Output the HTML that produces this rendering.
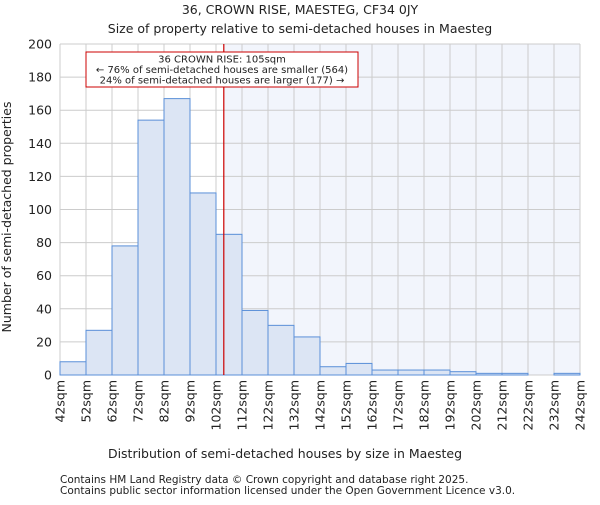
<!DOCTYPE html>
<html><head><meta charset="utf-8"><style>
body{margin:0;background:#fff;font-family:"Liberation Sans","DejaVu Sans",sans-serif;}
svg text{font-family:"DejaVu Sans","Liberation Sans",sans-serif;fill:#222;}
</style></head><body>
<svg id="c" width="600" height="500" xmlns="http://www.w3.org/2000/svg">
<text x="300" y="14" text-anchor="middle" font-size="12.5">36, CROWN RISE, MAESTEG, CF34 0JY</text>
<text x="300" y="33" text-anchor="middle" font-size="12.5">Size of property relative to semi-detached houses in Maesteg</text>
<g id="plot"></g>
<text x="285" y="458" text-anchor="middle" font-size="12.5">Distribution of semi-detached houses by size in Maesteg</text>
<text transform="translate(11,217) rotate(-90)" text-anchor="middle" font-size="12.5">Number of semi-detached properties</text>
<text x="60" y="483" font-size="10.5">Contains HM Land Registry data © Crown copyright and database right 2025.</text>
<text x="60" y="494" font-size="10.5">Contains public sector information licensed under the Open Government Licence v3.0.</text>
</svg>
<script>
const binStarts=[42,52,62,72,82,92,102,112,122,132,142,152,162,172,182,192,202,212,222,232];
const counts=[8,27,78,154,167,110,85,39,30,23,5,7,3,3,3,2,1,1,0,1];
const xTickLabels=["42sqm","52sqm","62sqm","72sqm","82sqm","92sqm","102sqm","112sqm","122sqm","132sqm","142sqm","152sqm","162sqm","172sqm","182sqm","192sqm","202sqm","212sqm","222sqm","232sqm","242sqm"];
const yTicks=[0,20,40,60,80,100,120,140,160,180,200];
const propertySize=105;
const NS="http://www.w3.org/2000/svg";
const L=60,R=580,T=44,B=375,xMin=42,xMax=242,yMax=200;
const xs=v=>L+(v-xMin)/(xMax-xMin)*(R-L);
const ys=v=>B-v/yMax*(B-T);
const g=document.getElementById('plot');
function mk(tag,a){const e=document.createElementNS(NS,tag);for(const k in a)e.setAttribute(k,a[k]);g.appendChild(e);return e;}
let e;
const px=xs(propertySize);
e=mk('rect',{x:L,y:T,width:px-L,height:B-T,fill:'#ffffff'});


e=mk('rect',{x:px,y:T,width:R-px,height:B-T,fill:'#f2f5fc'});


yTicks.forEach(t=>{
 e=mk('line',{x1:L,x2:R,y1:ys(t),y2:ys(t),stroke:'#cccccc','stroke-width':1});
 
 
 e=mk('text',{x:L-8,y:ys(t)+4.5,'text-anchor':'end','font-size':12.5});e.textContent=t;
 
 
});
xTickLabels.forEach((lab,i)=>{
 const v=xMin+i*10,x=xs(v);
 e=mk('line',{x1:x,x2:x,y1:T,y2:B,stroke:'#cccccc','stroke-width':1});
 
 
 e=mk('text',{transform:`translate(${x+4.5},${B+5}) rotate(-90)`,'text-anchor':'end','font-size':12.5});e.textContent=lab;
 
 
});
binStarts.forEach((s,i)=>{
 const x0=xs(s),x1=xs(s+10),y=ys(counts[i]);
 e=mk('rect',{x:x0,y:y,width:x1-x0,height:B-y,fill:'#dce5f4',stroke:'#5a8fd8','stroke-width':1});
 
 
});
e=mk('line',{x1:px,x2:px,y1:T,y2:B,stroke:'#cc0000','stroke-width':1.2});


e=mk('rect',{x:86,y:52,width:272,height:35,fill:'#fff',stroke:'#cc0000','stroke-width':1});


const ann=["36 CROWN RISE: 105sqm","← 76% of semi-detached houses are smaller (564)","24% of semi-detached houses are larger (177) →"];
ann.forEach((t,i)=>{e=mk('text',{x:222,y:62.5+i*10.5,'text-anchor':'middle','font-size':10});e.textContent=t;
 
 });
</script>
</body></html>
